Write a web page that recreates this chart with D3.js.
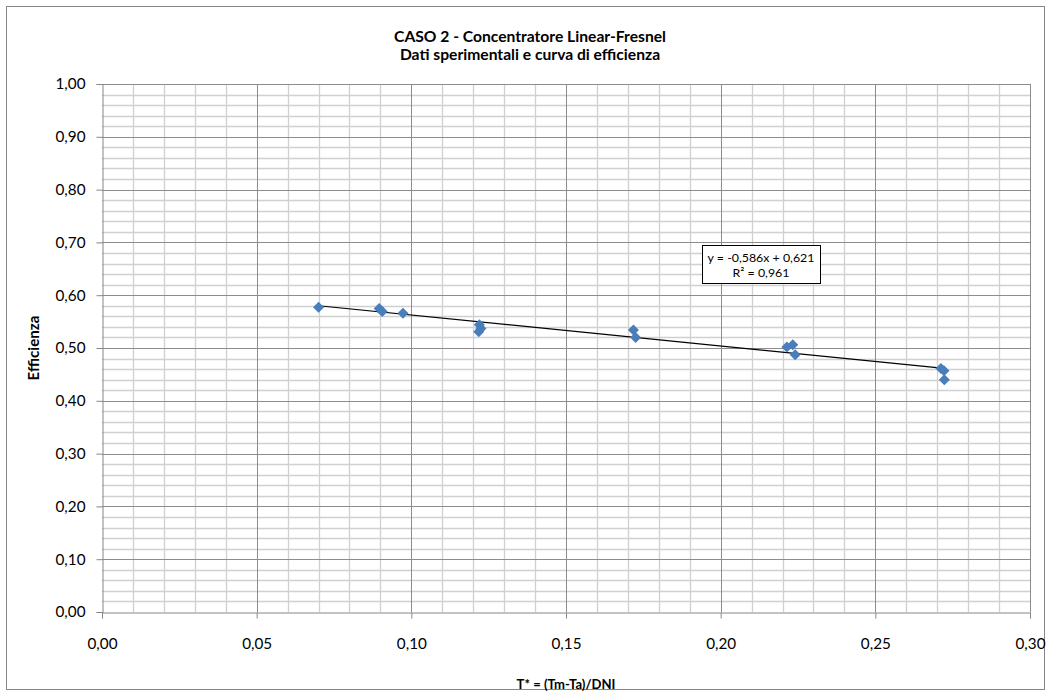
<!DOCTYPE html>
<html>
<head>
<meta charset="utf-8">
<script src="https://cdn.jsdelivr.net/npm/d3@7"></script>
<style>
  html, body { margin: 0; padding: 0; background: #fff; }
  svg { display: block; font-family: Lato, "Open Sans", "Liberation Sans", sans-serif; }
</style>
</head>
<body>
<svg id="chart" width="1051" height="696"></svg>
<script>
// ---- Data ----
const xValues = [0.0700, 0.0896, 0.0906, 0.0973, 0.1220, 0.1225, 0.1218, 0.1718, 0.1725, 0.2214, 0.2233, 0.2241, 0.2712, 0.2722, 0.2723];
const yValues = [0.577, 0.575, 0.569, 0.566, 0.544, 0.537, 0.531, 0.534, 0.520, 0.502, 0.506, 0.487, 0.461, 0.457, 0.440];
const trendSlope = -0.586;
const trendIntercept = 0.621;
const xTicks = [0, 0.05, 0.10, 0.15, 0.20, 0.25, 0.30];
const yTicks = [0, 0.1, 0.2, 0.3, 0.4, 0.5, 0.6, 0.7, 0.8, 0.9, 1.0];
const titleLines = ["CASO 2 - Concentratore Linear-Fresnel", "Dati sperimentali e curva di efficienza"];
const xTitle = "T* = (Tm-Ta)/DNI";
const yTitle = "Efficienza";
const eqLines = ["y = -0,586x + 0,621", "R² = 0,961"];

const svg = d3.select("#chart");
const W = 1051, H = 696;
const plot = { left: 102, right: 1030, top: 84, bottom: 612 };

const fmt = d => d3.format(".2f")(d).replace(".", ",");

// size a font so that a sample string spans the given width
function fitSize(sample, weight, targetWidth) {
  const t = svg.append("text").style("font-size", "20px").style("font-weight", weight).text(sample);
  const w = t.node().getComputedTextLength();
  t.remove();
  return 20 * targetWidth / w;
}
const tickSize = fitSize("0,00", "normal", 30);
const titleSize = (fitSize(titleLines[0], "bold", 262) + fitSize(titleLines[1], "bold", 270)) / 2;
const xTitleSize = fitSize(xTitle, "bold", 99);
const yTitleSize = fitSize(yTitle, "bold", 65);
const eqSize = fitSize(eqLines[0], "normal", 107);

const x = d3.scaleLinear().domain([0, 0.30]).range([plot.left, plot.right]);
const y = d3.scaleLinear().domain([0, 1.0]).range([plot.bottom, plot.top]);

// outer border
svg.append("rect").attr("x", 6.5).attr("y", 6.5).attr("width", W - 13).attr("height", H - 13)
  .attr("fill", "#fff").attr("stroke", "#868686").attr("stroke-width", 1);

// minor grid
const xMinor = d3.range(0, 31).map(i => i / 100).filter(v => Math.round(v * 100) % 5 !== 0);
const yMinor = d3.range(0, 51).map(i => i / 50).filter(v => Math.round(v * 50) % 5 !== 0);
const g = svg.append("g");
g.selectAll(".xm").data(xMinor).join("line")
  .attr("x1", d => Math.round(x(d)) + 0.5).attr("x2", d => Math.round(x(d)) + 0.5)
  .attr("y1", plot.top).attr("y2", plot.bottom)
  .attr("stroke", "#d0d0d0").attr("stroke-width", 1.3);
g.selectAll(".ym").data(yMinor).join("line")
  .attr("y1", d => Math.round(y(d)) + 0.5).attr("y2", d => Math.round(y(d)) + 0.5)
  .attr("x1", plot.left).attr("x2", plot.right)
  .attr("stroke", "#d0d0d0").attr("stroke-width", 1.3);
// major grid
g.selectAll(".xM").data(xTicks.slice(1)).join("line")
  .attr("x1", d => Math.round(x(d)) + 0.5).attr("x2", d => Math.round(x(d)) + 0.5)
  .attr("y1", plot.top).attr("y2", plot.bottom)
  .attr("stroke", "#8c8c8c").attr("stroke-width", 1);
g.selectAll(".yM").data(yTicks.slice(1)).join("line")
  .attr("y1", d => Math.round(y(d)) + 0.5).attr("y2", d => Math.round(y(d)) + 0.5)
  .attr("x1", plot.left).attr("x2", plot.right)
  .attr("stroke", "#8c8c8c").attr("stroke-width", 1);

// axes
const xAxis = d3.axisBottom(x).tickValues(xTicks).tickFormat(fmt).tickSize(6).tickPadding(18);
const yAxis = d3.axisLeft(y).tickValues(yTicks).tickFormat(fmt).tickSize(6).tickPadding(11);
const gx = svg.append("g").attr("transform", `translate(0,${plot.bottom + 0.5})`).call(xAxis);
const gy = svg.append("g").attr("transform", `translate(${plot.left + 0.5},0)`).call(yAxis);
[gx, gy].forEach(a => {
  a.selectAll("path, line").attr("stroke", "#868686");
  a.selectAll("text").attr("fill", "#000").style("font-size", tickSize + "px");
  a.attr("font-family", null);
});
gx.selectAll("text").attr("y", 36).attr("dy", null);

// trendline
const xMin = d3.min(xValues), xMax = d3.max(xValues);
svg.append("line")
  .attr("x1", x(xMin)).attr("y1", y(trendSlope * xMin + trendIntercept))
  .attr("x2", x(xMax)).attr("y2", y(trendSlope * xMax + trendIntercept))
  .attr("stroke", "#000").attr("stroke-width", 1.2);

// markers (diamonds)
const pts = xValues.map((v, i) => [v, yValues[i]]);
const r = 5.5;
svg.append("g").selectAll("path").data(pts).join("path")
  .attr("d", d => {
    const cx = x(d[0]), cy = y(d[1]);
    return `M${cx},${cy - r}L${cx + r},${cy}L${cx},${cy + r}L${cx - r},${cy}Z`;
  })
  .attr("fill", "#4a7ebb");

// equation box
const eg = svg.append("g");
eg.append("rect").attr("x", 702.5).attr("y", 245.5).attr("width", 118).attr("height", 38)
  .attr("fill", "#fff").attr("stroke", "#000").attr("stroke-width", 1);
eg.selectAll("text").data(eqLines).join("text")
  .attr("x", 761).attr("y", (d, i) => 262 + i * 15)
  .attr("text-anchor", "middle").style("font-size", eqSize + "px").attr("fill", "#000")
  .text(d => d);

// titles
svg.selectAll(".title").data(titleLines).join("text")
  .attr("x", 530).attr("y", (d, i) => 42 + i * 18)
  .attr("text-anchor", "middle").style("font-size", titleSize + "px").style("font-weight", "bold")
  .text(d => d);

svg.append("text").attr("x", plot.left + (plot.right - plot.left) / 2).attr("y", 689)
  .attr("text-anchor", "middle").style("font-size", xTitleSize + "px").style("font-weight", "bold")
  .text(xTitle);

svg.append("text").attr("transform", `translate(39,${(plot.top + plot.bottom) / 2}) rotate(-90)`)
  .attr("text-anchor", "middle").style("font-size", yTitleSize + "px").style("font-weight", "bold")
  .text(yTitle);
</script>
</body>
</html>
